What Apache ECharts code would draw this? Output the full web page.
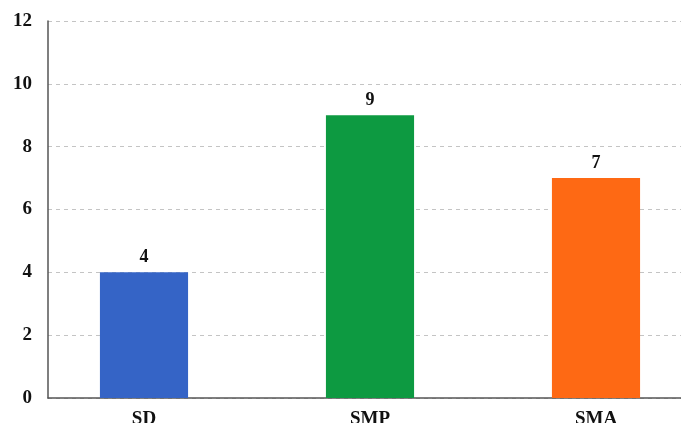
<!DOCTYPE html>
<html>
<head>
<meta charset="utf-8">
<script src="https://cdn.jsdelivr.net/npm/echarts@6/dist/echarts.min.js"></script>
<style>
  html, body { margin: 0; padding: 0; background: #ffffff; }
  #chart { width: 681px; height: 423px; }
</style>
</head>
<body>
<div id="chart"></div>
<script>
// Counts per method
const categories = ['SD', 'SMP', 'SMA'];
const values = [4, 9, 7];
const barColors = ['#3564c6', '#0d9a41', '#fe6914'];
const yTicks = [0, 2, 4, 6, 8, 10, 12];

const font = '"Liberation Serif", "Times New Roman", serif';
const chart = echarts.init(document.getElementById('chart'));

const yMin = yTicks[0];
const yMax = yTicks[yTicks.length - 1];
const yStep = yTicks[1] - yTicks[0];

chart.setOption({
  animation: false,
  backgroundColor: '#ffffff',
  grid: [
    // frame: value axis, gridlines and baseline
    { left: 48, right: 0, top: 21, bottom: 25, outerBoundsMode: 'none', containLabel: false },
    // bars and category labels (band spans past the right edge)
    { left: 31, right: -28, top: 21, bottom: 25, outerBoundsMode: 'none', containLabel: false }
  ],
  xAxis: [
    {
      gridIndex: 0, type: 'category', data: categories,
      axisLine: { lineStyle: { color: '#555', width: 1.5 } },
      axisTick: { show: false }, axisLabel: { show: false }
    },
    {
      gridIndex: 1, type: 'category', data: categories,
      axisLine: { show: false }, axisTick: { show: false },
      axisLabel: {
        margin: 12, color: '#111', fontFamily: font,
        fontWeight: 'bold', fontSize: 19
      }
    }
  ],
  yAxis: [
    {
      gridIndex: 0, type: 'value', min: yMin, max: yMax, interval: yStep,
      axisLine: { show: true, lineStyle: { color: '#555', width: 1.5 } },
      axisTick: { show: false },
      axisLabel: {
        margin: 16, color: '#111', fontFamily: font,
        fontWeight: 'bold', fontSize: 19
      },
      splitLine: { lineStyle: { color: '#c4c4c4', type: [4, 4], width: 1 } }
    },
    {
      gridIndex: 1, type: 'value', min: yMin, max: yMax, interval: yStep,
      show: false, splitLine: { show: false }
    }
  ],
  series: [{
    type: 'bar',
    xAxisIndex: 1, yAxisIndex: 1,
    barWidth: '39%',
    data: values.map((v, i) => ({ value: v, itemStyle: { color: barColors[i] } })),
    label: {
      show: true, position: 'top', distance: 6,
      color: '#111', fontFamily: font, fontWeight: 'bold', fontSize: 18
    }
  }]
});
</script>
</body>
</html>
